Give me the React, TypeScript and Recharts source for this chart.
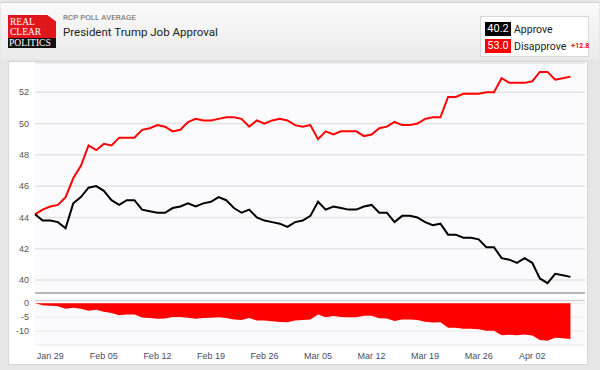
import { LineChart, Line, AreaChart, Area, XAxis, YAxis, CartesianGrid, ReferenceLine } from "recharts";

// RCP average, one point per day starting Jan 27
const approve = [
  44.2, 43.8, 43.8, 43.7, 43.3, 44.9, 45.3, 45.9, 46.0, 45.7,
  45.1, 44.8, 45.1, 45.1, 44.5, 44.4, 44.3, 44.3, 44.6, 44.7,
  44.9, 44.7, 44.9, 45.0, 45.3, 45.1, 44.6, 44.3, 44.5, 44.0,
  43.8, 43.7, 43.6, 43.4, 43.7, 43.8, 44.1, 45.0, 44.5, 44.7,
  44.6, 44.5, 44.5, 44.7, 44.8, 44.3, 44.3, 43.7, 44.1, 44.1,
  44.0, 43.7, 43.5, 43.6, 42.9, 42.9, 42.7, 42.7, 42.6, 42.1,
  42.1, 41.4, 41.3, 41.1, 41.4, 41.1, 40.1, 39.8, 40.4, 40.3,
  40.2,
];
const disapprove = [
  44.2, 44.5, 44.7, 44.8, 45.3, 46.5, 47.3, 48.6, 48.3, 48.7,
  48.6, 49.1, 49.1, 49.1, 49.6, 49.7, 49.9, 49.8, 49.5, 49.6,
  50.1, 50.3, 50.2, 50.2, 50.3, 50.4, 50.4, 50.3, 49.8, 50.2,
  50.0, 50.2, 50.3, 50.2, 49.9, 49.8, 49.9, 49.0, 49.5, 49.3,
  49.5, 49.5, 49.5, 49.2, 49.3, 49.7, 49.8, 50.1, 49.9, 49.9,
  50.0, 50.3, 50.4, 50.4, 51.7, 51.7, 51.9, 51.9, 51.9, 52.0,
  52.0, 52.9, 52.6, 52.6, 52.6, 52.7, 53.3, 53.3, 52.8, 52.9,
  53.0,
];
const tickDays = [2, 9, 16, 23, 30, 37, 44, 51, 58, 65];
const tickLabels = ["Jan 29", "Feb 05", "Feb 12", "Feb 19", "Feb 26", "Mar 05", "Mar 12", "Mar 19", "Mar 26", "Apr 02"];
const topTicks = [40, 42, 44, 46, 48, 50, 52];
const spreadTicks = [0, -5, -10];

const data = approve.map((a, i) => ({
  day: i,
  approve: a,
  disapprove: disapprove[i],
  spread: Math.round((a - disapprove[i]) * 10) / 10,
}));

const lastApprove = approve[approve.length - 1];
const lastDisapprove = disapprove[disapprove.length - 1];

const tickStyle = { fill: "#555", fontSize: 9, fontFamily: "Liberation Sans, Arial, sans-serif" };

function Logo() {
  return (
    <div style={{ position: "absolute", left: 8, top: 15, width: 48, height: 33, fontFamily: "Liberation Serif, serif", color: "#fff" }}>
      <div
        style={{
          background: "#e0161b",
          height: 23,
          fontSize: 9.5,
          lineHeight: "10px",
          padding: "2px 0 0 2px",
          boxSizing: "border-box",
          clipPath: "polygon(0 0, 82% 0, 100% 28%, 100% 100%, 0 100%)",
        }}
      >
        REAL
        <br />
        CLEAR
      </div>
      <div style={{ background: "#111", height: 10, fontSize: 9.5, lineHeight: "10px", paddingLeft: 1 }}>POLITICS</div>
    </div>
  );
}

function LegendBox() {
  const badge = (bg: string) => ({
    display: "inline-block",
    flexShrink: 0,
    width: 26,
    height: 14,
    background: bg,
    color: "#fff",
    fontSize: 11,
    lineHeight: "14px",
    textAlign: "center" as const,
    marginRight: 3,
  });
  return (
    <div
      style={{
        position: "absolute",
        left: 480,
        top: 16,
        width: 109,
        height: 41,
        background: "#fff",
        border: "1px solid #d8d8d8",
        boxSizing: "border-box",
        fontFamily: "Roboto, sans-serif",
        color: "#222",
        fontSize: 10.5,
        padding: "4px 0 0 4px",
        whiteSpace: "nowrap",
      }}
    >
      <div style={{ height: 16, display: "flex", alignItems: "center" }}>
        <span style={badge("#000")}>{lastApprove.toFixed(1)}</span>
        Approve
      </div>
      <div style={{ height: 16, display: "flex", alignItems: "center", marginTop: 1 }}>
        <span style={badge("#ff0000")}>{lastDisapprove.toFixed(1)}</span>
        Disapprove
        <span style={{ color: "#ff0000", fontSize: 7, fontWeight: "bold", marginLeft: 5 }}>
          +{(lastDisapprove - lastApprove).toFixed(1)}
        </span>
      </div>
    </div>
  );
}

export default function App() {
  return (
    <div style={{ position: "absolute", left: 0, top: 0, width: 600, height: 370, background: "#e6e6e6", overflow: "hidden" }}>
      <div
        style={{
          position: "absolute",
          left: 1,
          top: 2,
          width: 598,
          height: 56,
          background: "linear-gradient(#fafafa, #ebebeb)",
          borderTop: "1px solid #d4d4d4",
        }}
      />
      <Logo />
      <div style={{ position: "absolute", left: 63, top: 13, fontFamily: "Roboto, sans-serif", fontSize: 8, color: "#666" }}>
        RCP POLL AVERAGE
      </div>
      <div style={{ position: "absolute", left: 63, top: 25, fontFamily: "Roboto, sans-serif", fontSize: 11.5, color: "#222" }}>
        President Trump Job Approval
      </div>
      <LegendBox />

      <div
        style={{
          position: "absolute",
          left: 8,
          top: 61,
          width: 580,
          height: 304,
          background: "#fff",
          border: "1px solid #d6d6d6",
          boxSizing: "border-box",
        }}
      />

      <div style={{ position: "absolute", left: 9, top: 62 }}>
        <LineChart width={579} height={233} data={data} margin={{ top: 1, right: 3, left: 0, bottom: 0 }}>
          <CartesianGrid vertical={false} stroke="#e4e4e4" strokeWidth={1.5} fill="#fbfbfd" />
          <XAxis
            dataKey="day"
            type="number"
            domain={[0, 71.9]}
            ticks={tickDays}
            tick={false}
            tickLine={false}
            height={2}
            axisLine={{ stroke: "#b8b8b8", strokeWidth: 2 }}
          />
          <YAxis
            domain={[39.17, 53.87]}
            ticks={topTicks}
            interval={0}
            allowDataOverflow
            width={26}
            axisLine={false}
            tickLine={false}
            tickSize={0}
            tickMargin={6}
            tick={tickStyle}
          />
          <Line type="linear" dataKey="disapprove" stroke="#ff0000" strokeWidth={2} dot={false} isAnimationActive={false} />
          <Line type="linear" dataKey="approve" stroke="#000" strokeWidth={2} dot={false} isAnimationActive={false} />
        </LineChart>
      </div>

      <div style={{ position: "absolute", left: 9, top: 295 }}>
        <AreaChart width={579} height={70} data={data} margin={{ top: 5.5, right: 3, left: 0, bottom: 0 }}>
          <CartesianGrid vertical={false} stroke="#e8e8e8" strokeWidth={1} fill="#fbfbfd" />
          <XAxis
            dataKey="day"
            type="number"
            domain={[0, 71.9]}
            ticks={tickDays}
            interval={0}
            tickFormatter={(d: number) => tickLabels[tickDays.indexOf(d)]}
            height={20}
            axisLine={false}
            tickLine={false}
            tick={{ ...tickStyle, fill: "#4b4b63" }}
          />
          <YAxis
            domain={[-15, 1]}
            ticks={spreadTicks}
            interval={0}
            width={26}
            axisLine={false}
            tickLine={false}
            tickSize={0}
            tickMargin={6}
            tick={tickStyle}
          />
          <ReferenceLine y={1} stroke="#d4d4d4" strokeWidth={1.5} />
          <Area
            type="linear"
            dataKey="spread"
            baseValue={0}
            stroke="none"
            fill="#ff0000"
            fillOpacity={1}
            isAnimationActive={false}
          />
        </AreaChart>
      </div>
    </div>
  );
}
